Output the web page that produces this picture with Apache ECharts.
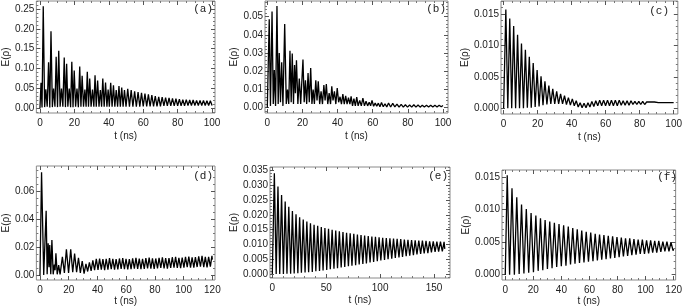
<!DOCTYPE html>
<html>
<head>
<meta charset="utf-8">
<script src="https://cdn.jsdelivr.net/npm/echarts@6/dist/echarts.min.js"></script>
<style>
  html, body { margin: 0; padding: 0; background: #fff; }
  #main { width: 685px; height: 307px; }
</style>
</head>
<body>
<div id="main"></div>
<script>
// values: times (ns) and E(rho) at the peaks and dips of each curve
var tA = [0, 0.6, 1.2, 1.9, 2.7, 3.4, 4.2, 5.0, 5.7, 6.4, 7.2, 7.9, 8.7, 9.4, 10.2, 10.9, 11.7, 12.5, 13.3, 14.1,
    14.8, 15.5, 16.2, 17.0, 17.8, 18.5, 19.2, 19.9, 20.7, 21.5, 22.3, 23.1, 23.8, 24.5, 25.3, 26.1, 26.8, 27.5, 28.2, 28.9,
    29.7, 30.5, 31.3, 32.0, 32.7, 33.5, 34.3, 35.1, 35.8, 36.5, 37.3, 38.1, 38.9, 39.6, 40.3, 41.1, 41.9, 42.7, 43.5, 44.3,
    45.1, 45.9, 46.7, 47.5, 48.3, 49.1, 50, 51, 52, 53, 54, 55, 56, 57, 58, 59, 60, 61, 62, 63,
    64, 65, 66, 67, 68, 69, 70, 71, 72, 73, 74, 75, 76, 77, 78, 79, 80, 81, 82, 83,
    84, 85, 86, 87, 88, 89, 90, 91, 92, 93, 94, 95, 96, 97, 98, 99, 100];
var eA = [0, 0.064, 0.002, 0.257, 0.003, 0.048, 0.004, 0.116, 0.002, 0.194, 0.003, 0.05, 0.004, 0.13, 0.003, 0.145, 0.004, 0.05, 0.004, 0.128,
    0.003, 0.112, 0.004, 0.05, 0.003, 0.117, 0.003, 0.095, 0.004, 0.05, 0.003, 0.105, 0.004, 0.082, 0.004, 0.047, 0.004, 0.092, 0.004, 0.075,
    0.004, 0.047, 0.004, 0.083, 0.004, 0.07, 0.004, 0.046, 0.004, 0.075, 0.004, 0.065, 0.004, 0.047, 0.004, 0.064, 0.004, 0.058, 0.004, 0.046,
    0.004, 0.056, 0.004, 0.052, 0.004, 0.046, 0.004, 0.049, 0.004, 0.046, 0.004, 0.043, 0.004, 0.041, 0.004, 0.039, 0.005, 0.037, 0.005, 0.035,
    0.005, 0.033, 0.005, 0.031, 0.005, 0.029, 0.005, 0.028, 0.006, 0.027, 0.006, 0.026, 0.006, 0.025, 0.006, 0.024, 0.006, 0.023, 0.006, 0.022,
    0.006, 0.022, 0.007, 0.021, 0.007, 0.021, 0.007, 0.020, 0.007, 0.020, 0.007, 0.020, 0.007, 0.019, 0.007, 0.019, 0.007];

var tB = [0, 1.1, 1.8, 2.7, 3.4, 4.0, 4.7, 5.5, 6.2, 6.8, 7.5, 8.2, 8.9, 9.9, 10.8, 11.5, 12.2, 12.9, 13.6, 14.2,
    14.9, 15.5, 16.0, 16.6, 17.4, 18.2, 19.0, 20.3, 21.0, 21.7, 22.4, 23.2, 23.9, 24.7, 25.4, 26.1, 26.8, 27.6, 28.3, 29.0,
    29.8, 30.6, 31.4, 32.2, 32.9, 33.6, 34.4, 35.2, 36.0, 36.7, 37.4, 38.2, 39.0, 39.8, 40.6, 41.4, 42.2, 43.0, 43.8, 44.6,
    45.4, 46.2, 47.0, 47.7, 48.5, 49.3, 50.1, 50.9, 51.7, 52.6, 53.5, 54.4, 55.3, 56.2, 57.1, 58.0, 58.8, 59.6, 60.5, 61.4,
    62.3, 63.2, 64.1, 65.0, 66.0, 67.0, 68.0, 69.0, 70.2, 71.4, 72.6, 73.8, 75.0, 76.2, 77.4, 78.6, 79.8, 81.0, 82.2, 83.4,
    84.6, 85.8, 87.0, 88.2, 89.4, 90.6, 91.8, 93.0, 94.2, 95.4, 96.6, 97.8, 99.0, 100];
var eB = [0, 0.0486, 0.001, 0.0528, 0.002, 0.0207, 0.001, 0.0559, 0.002, 0.030, 0.003, 0.025, 0.001, 0.046, 0.002, 0.010, 0.002, 0.0313, 0.003, 0.0298,
    0.002, 0.0234, 0.008, 0.026, 0.002, 0.016, 0.002, 0.0265, 0.003, 0.015, 0.002, 0.019, 0.003, 0.0218, 0.002, 0.010, 0.002, 0.015, 0.004, 0.0145,
    0.002, 0.009, 0.002, 0.0125, 0.004, 0.013, 0.002, 0.008, 0.002, 0.0117, 0.004, 0.009, 0.002, 0.0108, 0.003, 0.006, 0.002, 0.0075, 0.002, 0.0065,
    0.002, 0.0055, 0.002, 0.0062, 0.001, 0.005, 0.001, 0.0058, 0.001, 0.004, 0.001, 0.0052, 0.001, 0.0035, 0.001, 0.003, 0.001, 0.004, 0.0008, 0.0025,
    0.0008, 0.0025, 0.0005, 0.0028, 0.0005, 0.0022, 0.0004, 0.0026, 0.0004, 0.0024, 0.0004, 0.002, 0.0003, 0.0018, 0.0003, 0.0016, 0.0003, 0.0015, 0.0003, 0.0016,
    0.0003, 0.0015, 0.0003, 0.0014, 0.0004, 0.0013, 0.0004, 0.0014, 0.0004, 0.0013, 0.0004, 0.0013, 0.0005, 0.0012];

var tC = [0, 1.3, 2.45, 3.6, 4.75, 5.9, 7.05, 8.2, 9.35, 10.5, 11.65, 12.8, 13.95, 15.1, 16.25, 17.4, 18.55, 19.7, 20.85, 22.0,
    23.15, 24.3, 25.45, 26.6, 27.75, 28.9, 30.05, 31.2, 32.35, 33.5, 34.65, 35.8, 36.95, 38.1, 39.25, 40.4, 41.55, 42.7, 43.85, 45.0,
    46.15, 47.3, 48.45, 49.6, 50.75, 51.9, 53.05, 54.2, 55.35, 56.5, 57.65, 58.8, 59.95, 61.1, 62.25, 63.4, 64.55, 65.7, 66.85, 68.0,
    69.15, 70.3, 71.45, 72.6, 73.75, 74.9, 76.05, 77.2, 78.35, 79.5, 80.65, 81.8, 82.95, 84.1, 85.25, 86.4, 87.55, 88.7, 89.85, 91.0,
    92.15, 93.3, 94.45, 95.6, 96.75, 97.9, 99.05, 100];
var eC = [0, 0.0157, 0, 0.0143, 0, 0.0131, 0, 0.0117, 0, 0.0103, 0, 0.0093, 0.0001, 0.0082, 0.0001, 0.0072, 0.0002, 0.0061, 0.0003, 0.0051,
    0.0005, 0.0043, 0.0006, 0.0036, 0.0007, 0.0031, 0.0007, 0.0027, 0.0007, 0.0023, 0.0007, 0.0020, 0.0006, 0.0017, 0.0005, 0.0015, 0.0004, 0.0012, 0.0002, 0.0009,
    0.0001, 0.0008, 0.0001, 0.0009, 0.0002, 0.0011, 0.0003, 0.0012, 0.0004, 0.0013, 0.0004, 0.0013, 0.0004, 0.0013, 0.0004, 0.0013, 0.0004, 0.0013, 0.0004, 0.0013,
    0.0005, 0.0012, 0.0005, 0.0012, 0.0005, 0.0012, 0.0006, 0.0011, 0.0006, 0.0011, 0.0006, 0.0011, 0.0006, 0.0010, 0.0007, 0.0010, 0.0007, 0.0010, 0.0007, 0.0009,
    0.0007, 0.0009, 0.0007, 0.0009, 0.0008, 0.0009, 0.0008, 0.0009];

var tD = [0, 1.1, 2.6, 4.3, 5.0, 5.7, 6.3, 6.8, 7.5, 8.3, 9.2, 10.0, 10.5, 11.1, 12.0, 13.0, 14.0, 15.6, 17.0, 18.4,
    19.9, 21.4, 22.8, 24.1, 25.5, 26.8, 28.1, 29.4, 30.7, 32.0, 33.2, 34.4, 35.6, 36.8, 38.0, 39.2, 40.4, 41.5, 42.7, 43.8,
    45.0, 46.1, 47.3, 48.4, 49.6, 50.7, 51.9, 53.0, 54.2, 55.3, 56.5, 57.6, 58.8, 59.9, 61.1, 62.2, 63.4, 64.5, 65.7, 66.8,
    68.0, 69.1, 70.3, 71.4, 72.6, 73.7, 74.9, 76.0, 77.2, 78.3, 79.5, 80.6, 81.8, 82.9, 84.1, 85.2, 86.4, 87.5, 88.7, 89.8,
    91.0, 92.1, 93.3, 94.4, 95.6, 96.7, 97.9, 99.0, 100.2, 101.3, 102.5, 103.6, 104.8, 105.9, 107.1, 108.2, 109.4, 110.5, 111.7, 112.8,
    114.0, 115.1, 116.3, 117.4, 118.6, 119.7, 120];
var eD = [0, 0.0738, 0.0005, 0.0464, 0.001, 0.0231, 0.006, 0.022, 0.001, 0.0255, 0.001, 0.008, 0.004, 0.016, 0.001, 0.0075, 0.001, 0.0135, 0.002, 0.0188,
    0.002, 0.0188, 0.0025, 0.0158, 0.0025, 0.0128, 0.002, 0.0105, 0.0015, 0.0085, 0.003, 0.0095, 0.0035, 0.011, 0.004, 0.012, 0.0042, 0.0122, 0.0043, 0.0118,
    0.0040, 0.0121, 0.0044, 0.0125, 0.0046, 0.0120, 0.0043, 0.0118, 0.0045, 0.0123, 0.0048, 0.0126, 0.0047, 0.0121, 0.0045, 0.0119, 0.0047, 0.0124, 0.0050, 0.0127,
    0.0049, 0.0122, 0.0047, 0.0121, 0.0049, 0.0126, 0.0052, 0.0129, 0.0051, 0.0124, 0.0049, 0.0123, 0.0052, 0.0128, 0.0055, 0.0131, 0.0053, 0.0126, 0.0051, 0.0126,
    0.0055, 0.0132, 0.0058, 0.0134, 0.0055, 0.0128, 0.0054, 0.0129, 0.0058, 0.0135, 0.0061, 0.0137, 0.0058, 0.0131, 0.0057, 0.0132, 0.0062, 0.0139, 0.0064, 0.0141,
    0.0061, 0.0134, 0.0060, 0.0135, 0.0065, 0.0142, 0.0115];

var tE = [0, 1.9, 3.6, 5.25, 6.9, 8.6, 10.3, 11.95, 13.6, 15.3, 17.0, 18.65, 20.3, 22.0, 23.7, 25.35, 27.0, 28.7, 30.4, 32.05,
    33.7, 35.4, 37.1, 38.75, 40.4, 42.1, 43.8, 45.45, 47.1, 48.8, 50.5, 52.15, 53.8, 55.5, 57.2, 58.85, 60.5, 62.2, 63.9, 65.55,
    67.2, 68.9, 70.6, 72.25, 73.9, 75.6, 77.3, 78.95, 80.6, 82.3, 84.0, 85.65, 87.3, 89.0, 90.7, 92.35, 94.0, 95.7, 97.4, 99.05,
    100.7, 102.4, 104.1, 105.75, 107.4, 109.1, 110.8, 112.45, 114.1, 115.8, 117.5, 119.15, 120.8, 122.5, 124.2, 125.85, 127.5, 129.2, 130.9, 132.55,
    134.2, 135.9, 137.6, 139.25, 140.9, 142.6, 144.3, 145.95, 147.6, 149.3, 151.0, 152.65, 154.3, 156.0, 157.7, 159.35, 160];
var eE = [0, 0.0341, 0, 0.0296, 0, 0.0268, 0, 0.0246, 0.0001, 0.0228, 0.0001, 0.0213, 0.0002, 0.0202, 0.0003, 0.0192, 0.0004, 0.0185, 0.0005, 0.0178,
    0.0006, 0.0172, 0.0007, 0.0167, 0.0009, 0.0163, 0.0010, 0.0159, 0.0012, 0.0156, 0.0014, 0.0153, 0.0016, 0.0150, 0.0018, 0.0147, 0.0020, 0.0145, 0.0022, 0.0142,
    0.0024, 0.0140, 0.0026, 0.0138, 0.0028, 0.0136, 0.0030, 0.0134, 0.0032, 0.0132, 0.0034, 0.0130, 0.0036, 0.0129, 0.0039, 0.0127, 0.0041, 0.0126, 0.0043, 0.0124,
    0.0046, 0.0123, 0.0048, 0.0122, 0.0050, 0.0121, 0.0052, 0.0120, 0.0054, 0.0119, 0.0056, 0.0118, 0.0058, 0.0117, 0.0060, 0.0116, 0.0062, 0.0115, 0.0064, 0.0114,
    0.0066, 0.0113, 0.0068, 0.0113, 0.0070, 0.0112, 0.0071, 0.0111, 0.0073, 0.0111, 0.0075, 0.0110, 0.0076, 0.0110, 0.0077, 0.0109, 0.0085];

var tF = [0, 1.4, 3.1, 4.8, 6.5, 8.2, 9.9, 11.6, 13.3, 15.0, 16.7, 18.4, 20.1, 21.8, 23.45, 25.1, 26.75, 28.4, 30.05, 31.7,
    33.35, 35.0, 36.65, 38.3, 39.95, 41.6, 43.25, 44.9, 46.5, 48.1, 49.7, 51.3, 52.9, 54.5, 56.1, 57.7, 59.3, 60.9, 62.5, 64.1,
    65.65, 67.2, 68.75, 70.3, 71.85, 73.4, 74.95, 76.5, 78.05, 79.6, 81.15, 82.7, 84.2, 85.7, 87.2, 88.7, 90.2, 91.7, 93.2, 94.7,
    96.2, 97.7, 99.2, 100.7, 102.15, 103.6, 105.05, 106.5, 107.95, 109.4, 110.85, 112.3, 113.75, 115.2, 116.65, 118.1, 119.55, 120];
var eF = [0, 0.0153, 0, 0.0133, 0, 0.0119, 0.0001, 0.0108, 0.0002, 0.0101, 0.0003, 0.0095, 0.0004, 0.0091, 0.0006, 0.0087, 0.0007, 0.0084, 0.0009, 0.0082,
    0.0010, 0.0080, 0.0012, 0.0078, 0.0013, 0.0076, 0.0014, 0.0074, 0.0016, 0.0072, 0.0017, 0.0070, 0.0018, 0.0068, 0.0019, 0.0066, 0.0020, 0.0065, 0.0021, 0.0063,
    0.0022, 0.0062, 0.0023, 0.0061, 0.0024, 0.0060, 0.0025, 0.0059, 0.0026, 0.0058, 0.0027, 0.0057, 0.0028, 0.0056, 0.0029, 0.0056, 0.0030, 0.0055, 0.0031, 0.0054,
    0.0032, 0.0054, 0.0032, 0.0053, 0.0033, 0.0053, 0.0034, 0.0052, 0.0034, 0.0052, 0.0035, 0.0051, 0.0036, 0.0051, 0.0036, 0.0050, 0.0037, 0.0040];

// axis ticks of each panel
var xMaxList = [100, 100, 100, 120, 150, 120];
var xStepList = [20, 20, 20, 20, 50, 20];
var yMaxList = [0.25, 0.05, 0.015, 0.06, 0.035, 0.015];
var yStepList = [0.05, 0.01, 0.005, 0.02, 0.005, 0.005];
var yDecList = [2, 2, 3, 2, 3, 3];
var tagList = ['(a)', '(b)', '(c)', '(d)', '(e)', '(f)'];

// pixel layout: frame box and the box spanned by 0..xMax, 0..yMax
var layout = [
    {frame: [32, 1, 215, 113], box: [35.7, 9, 212, 108.3], tag: [213, 9], xGap: 18, yGap: 21, xMinor: 4, yMinor: 5},
    {frame: [265, 1, 448, 113], box: [267.3, 16.7, 443, 107.7], tag: [446, 9], xGap: 18, yGap: 21, xMinor: 4, yMinor: 5},
    {frame: [501, 1, 683, 114], box: [503.7, 14, 678.7, 108.3], tag: [669, 11], xGap: 18, yGap: 27, xMinor: 4, yMinor: 5},
    {frame: [32, 166, 215, 280], box: [35.7, 191.7, 212.3, 275.7], tag: [213, 176], xGap: 16, yGap: 21, xMinor: 4, yMinor: 4},
    {frame: [270, 167, 450, 278], box: [272.3, 170.7, 434, 274], tag: [448, 176], xGap: 17, yGap: 28, xMinor: 5, yMinor: 5},
    {frame: [502, 170, 678, 281], box: [505.3, 177.3, 676, 275.7], tag: [677, 177.5], xGap: 16, yGap: 26, xMinor: 4, yMinor: 5}
];

var FONT = 'Liberation Sans';

function pairs(ts, es) {
    return ts.map(function (t, i) { return [t, es[i]]; });
}

// multiples of step between lo and hi
function tickValues(lo, hi, step) {
    var out = [];
    var k0 = Math.ceil(lo / step - 1e-6), k1 = Math.floor(hi / step + 1e-6);
    for (var k = k0; k <= k1; k++) {
        out.push(+(k * step).toFixed(6));
    }
    return out;
}

// one axis with the long ticks (and labels if asked), one with the short ticks
function axisPair(i, pos, lo, hi, majors, minors, label, name, gap) {
    var tick = {show: true, inside: true, length: 4, customValues: majors, lineStyle: {color: '#555', width: 1}};
    var small = {show: true, inside: true, length: 2, customValues: minors, lineStyle: {color: '#777', width: 1}};
    var base = {gridIndex: i, type: 'value', position: pos, min: lo, max: hi,
        axisLine: {show: false, onZero: false}, splitLine: {show: false}};
    var a = Object.assign({}, base, {axisTick: tick, axisLabel: {show: false}});
    if (label) {
        a.axisLabel = Object.assign({show: true, customValues: majors, fontSize: 10, color: '#222', fontFamily: FONT}, label);
        a.name = name;
        a.nameLocation = 'middle';
        a.nameGap = gap;
        a.nameTextStyle = {fontSize: 10, color: '#222', fontFamily: FONT};
    }
    var b = Object.assign({}, base, {axisTick: small, axisLabel: {show: false}});
    return [a, b];
}

function build() {
    var myChart = echarts.init(document.getElementById('main'));
    var curves = [pairs(tA, eA), pairs(tB, eB), pairs(tC, eC), pairs(tD, eD), pairs(tE, eE), pairs(tF, eF)];

    var grids = [], xAxes = [], yAxes = [], series = [], graphics = [];

    for (var i = 0; i < 6; i++) {
        var L = layout[i];
        var f = L.frame, b = L.box;
        // axis range that fills the whole frame
        var sx = (b[2] - b[0]) / xMaxList[i];
        var sy = (b[3] - b[1]) / yMaxList[i];
        var x0 = -(b[0] - f[0]) / sx, x1 = xMaxList[i] + (f[2] - b[2]) / sx;
        var y0 = -(f[3] - b[3]) / sy, y1 = yMaxList[i] + (b[1] - f[1]) / sy;

        grids.push({left: f[0], top: f[1], width: f[2] - f[0], height: f[3] - f[1],
            show: true, borderColor: '#8a8a8a', borderWidth: 1, containLabel: false});

        var xMaj = tickValues(0, xMaxList[i], xStepList[i]);
        var xMin = tickValues(x0, x1, xStepList[i] / L.xMinor).filter(function (v) { return xMaj.indexOf(v) < 0; });
        var yMaj = tickValues(0, yMaxList[i], yStepList[i]);
        var yMin = tickValues(y0, y1, yStepList[i] / L.yMinor).filter(function (v) { return yMaj.indexOf(v) < 0; });

        xAxes = xAxes.concat(axisPair(i, 'bottom', x0, x1, xMaj, xMin, {margin: 5}, 't (ns)', L.xGap));
        xAxes = xAxes.concat(axisPair(i, 'top', x0, x1, xMaj, xMin, null));
        (function (dec) {
            yAxes = yAxes.concat(axisPair(i, 'left', y0, y1, yMaj, yMin,
                {margin: 2, formatter: function (v) { return (+v).toFixed(dec); }}, 'E(ρ)', L.yGap));
        })(yDecList[i]);
        yAxes = yAxes.concat(axisPair(i, 'right', y0, y1, yMaj, yMin, null));

        series.push({
            type: 'line', xAxisIndex: 4 * i, yAxisIndex: 4 * i,
            data: curves[i], showSymbol: false,
            lineStyle: {color: '#000', width: 1.3}
        });

        // panel letter
        graphics.push({
            type: 'text', silent: true, x: L.tag[0], y: L.tag[1],
            style: {text: tagList[i], fill: '#222', font: '11px "Liberation Mono"', align: 'right', verticalAlign: 'middle'}
        });
    }

    var option = {
        animation: false,
        backgroundColor: '#fff',
        grid: grids,
        xAxis: xAxes,
        yAxis: yAxes,
        series: series,
        graphic: graphics
    };

    myChart.setOption(option);
}

build();
</script>
</body>
</html>
